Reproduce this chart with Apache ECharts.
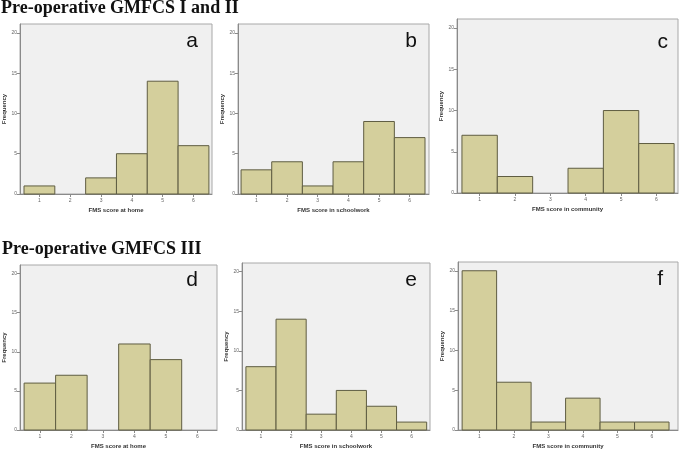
<!DOCTYPE html>
<html>
<head>
<meta charset="utf-8">
<script src="https://cdn.jsdelivr.net/npm/echarts@6/dist/echarts.min.js"></script>
<style>html,body{margin:0;padding:0;background:#fff}#c{width:680px;height:450px}</style>
</head>
<body>
<div id="c"></div>
<script>
// ---- data ----
const scores = [1, 2, 3, 4, 5, 6];
const homeI = [1, 0, 2, 5, 14, 6];
const schoolI = [3, 4, 1, 4, 9, 7];
const communityI = [7, 2, 0, 3, 10, 6];
const homeIII = [6, 7, 0, 11, 9, 0];
const schoolIII = [8, 14, 2, 5, 3, 1];
const communityIII = [20, 6, 1, 4, 1, 1];
const yTicks = [0, 5, 10, 15, 20];
const rowTitles = ['Pre-operative GMFCS I and II', 'Pre-operative GMFCS III'];
const panelLetters = ['a', 'b', 'c', 'd', 'e', 'f'];
const xTitles = ['FMS score at home', 'FMS score in schoolwork', 'FMS score in community',
                 'FMS score at home', 'FMS score in schoolwork', 'FMS score in community'];
const yTitle = 'Frequency';

// ---- layout ----
const panels = [
  {vals: homeI,        grid: {left: 20,  top: 24,  width: 192, height: 170}, xmin: 0.37, xmax: 6.6,  letter: [198, 31]},
  {vals: schoolI,      grid: {left: 238, top: 24,  width: 191, height: 170}, xmin: 0.40, xmax: 6.63, letter: [417, 31]},
  {vals: communityI,   grid: {left: 457, top: 19,  width: 221, height: 174}, xmin: 0.36, xmax: 6.61, letter: [668, 32]},
  {vals: homeIII,      grid: {left: 20,  top: 265, width: 197, height: 167}, xmin: 0.37, xmax: 6.62, letter: [198, 270]},
  {vals: schoolIII,    grid: {left: 242, top: 263, width: 188, height: 169}, xmin: 0.37, xmax: 6.61, letter: [417, 270]},
  {vals: communityIII, grid: {left: 458, top: 262, width: 220, height: 170}, xmin: 0.38, xmax: 6.76, letter: [663, 269]}
];

const FONT = 'Liberation Sans';
const grids = [], xAxes = [], yAxes = [], series = [], graphics = [];

panels.forEach((p, i) => {
  grids.push(Object.assign({show: true, backgroundColor: '#f0f0f0', borderColor: '#a8a8a8', borderWidth: 1}, p.grid));
  xAxes.push({
    type: 'value', gridIndex: i, min: p.xmin, max: p.xmax,
    name: xTitles[i], nameLocation: 'middle', nameGap: 13,
    nameTextStyle: {fontSize: 6, fontWeight: 'bold', color: '#333', fontFamily: FONT},
    splitLine: {show: false},
    axisLine: {show: true, lineStyle: {color: '#8a8a8a'}},
    axisTick: {show: true, length: 3, lineStyle: {color: '#8a8a8a'}, customValues: scores},
    axisLabel: {fontSize: 5, color: '#666', margin: 4, fontFamily: FONT, customValues: scores}
  });
  yAxes.push({
    type: 'value', gridIndex: i, min: 0, max: 21.1,
    name: yTitle, nameLocation: 'middle', nameGap: 11,
    nameTextStyle: {fontSize: 6, fontWeight: 'bold', color: '#333', fontFamily: FONT},
    splitLine: {show: false},
    axisLine: {show: true, lineStyle: {color: '#8a8a8a'}},
    axisTick: {show: true, length: 3, lineStyle: {color: '#8a8a8a'}, customValues: yTicks},
    axisLabel: {fontSize: 5, color: '#666', margin: 3, fontFamily: FONT, customValues: yTicks}
  });
  series.push({
    type: 'custom', xAxisIndex: i, yAxisIndex: i,
    data: scores.map((s, k) => [s, p.vals[k]]),
    renderItem: function (params, api) {
      const x = api.value(0), y = api.value(1);
      if (!y) return null;
      const a = api.coord([x - 0.5, y]);
      const b = api.coord([x + 0.5, 0]);
      return {type: 'rect', shape: {x: a[0], y: a[1], width: b[0] - a[0], height: b[1] - a[1]},
              style: {fill: '#d4cf9c', stroke: '#5f5d42', lineWidth: 1}};
    }
  });
  graphics.push({type: 'text', right: 680 - p.letter[0], top: p.letter[1],
    style: {text: panelLetters[i], font: '21px "Liberation Sans"', fill: '#111'}});
});

graphics.push({type: 'text', left: 1, top: -1,
  style: {text: rowTitles[0], font: 'bold 18px "Liberation Serif"', fill: '#111'}});
graphics.push({type: 'text', left: 2, top: 240,
  style: {text: rowTitles[1], font: 'bold 18px "Liberation Serif"', fill: '#111'}});

const chart = echarts.init(document.getElementById('c'), null, {renderer: 'canvas'});
chart.setOption({
  animation: false,
  backgroundColor: '#fff',
  grid: grids, xAxis: xAxes, yAxis: yAxes, series: series, graphic: graphics
});
</script>
</body>
</html>
